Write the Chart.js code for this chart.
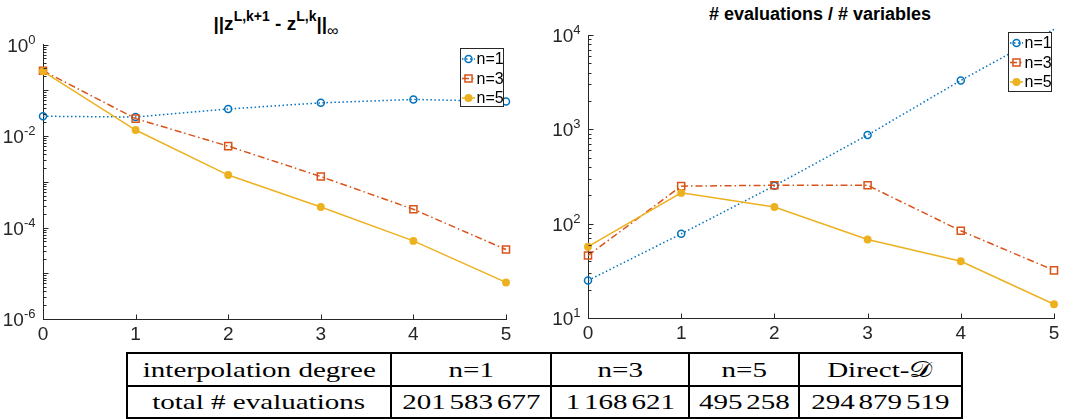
<!DOCTYPE html>
<html>
<head>
<meta charset="utf-8">
<script src="https://cdn.jsdelivr.net/npm/chart.js@4.4.1/dist/chart.umd.min.js"></script>
<style>
  body { margin: 0; background: #fff; width: 1082px; height: 419px; position: relative; overflow: hidden;
         font-family: 'Liberation Sans', Arial, sans-serif; }
  .panel { position: absolute; top: 0; height: 345px; }
  .title { position: absolute; font-weight: bold; color: #000; text-align: center; white-space: nowrap; }
  #title-left { left: 0; width: 552px; top: 14px; font-size: 19px; line-height: 19px; }
  #title-left sup { font-size: 14px; position: relative; top: -9px; vertical-align: baseline; }
  #title-left sub { font-size: 16px; font-weight: normal; position: relative; top: 6px; vertical-align: baseline; }
  #title-right { left: 620px; width: 400px; top: 5px; font-size: 18px; line-height: 18px; }
  #totals { position: absolute; left: 126px; top: 352px; width: 835px; table-layout: fixed;
            border-collapse: collapse; border: 2px solid #000;
            font-family: 'Liberation Serif', 'Times New Roman', serif; font-size: 22px; color: #000; }
  #totals td { border: 2px solid #000; padding: 0; text-align: center; vertical-align: middle; white-space: nowrap; }
  #totals td > span { display: inline-block; transform: scaleX(1.32); }
  #totals .grp + .grp { margin-left: 0.13em; }
</style>
</head>
<body>
<div class="title" id="title-left">||z<sup>L,k+1</sup> - z<sup>L,k</sup>||<sub>∞</sub></div>
<div class="title" id="title-right"># evaluations / # variables</div>

<div class="panel" style="left:0;width:540px"><canvas id="diff-chart" width="540" height="345"></canvas></div>
<div class="panel" style="left:545px;width:537px"><canvas id="eval-chart" width="537" height="345"></canvas></div>

<table id="totals">
  <colgroup><col style="width:264px"><col style="width:160px"><col style="width:138px"><col style="width:110px"><col style="width:163px"></colgroup>
  <tr style="height:33px" id="head-row"></tr>
  <tr style="height:32px" id="total-row"></tr>
</table>

<script>
// x = iteration index k
const iterations = [0, 1, 2, 3, 4, 5];
const seriesLabels = ['n=1', 'n=3', 'n=5'];

// ||z^{L,k+1} - z^{L,k}||_inf per degree
const diffN1 = [0.027, 0.026, 0.039, 0.053, 0.063, 0.057];
const diffN3 = [0.267, 0.024, 0.006, 0.0013, 0.00025, 0.000033];
const diffN5 = [0.26, 0.0135, 0.0014, 0.00028, 0.000051, 0.0000063];

// evaluations per variable
const evalN1 = [25, 78, 252, 870, 3300, 11500];
const evalN3 = [46, 250, 255, 255, 84, 32];
const evalN5 = [57, 212, 150, 68, 40, 14];

// decade exponents: labelled ones and full axis range
const diffLabelExps = [0, -2, -4, -6];
const diffRange = [-6, 0];
const evalLabelExps = [1, 2, 3, 4];
const evalRange = [1, 4];

// summary table (digit groups separated by a space)
const tableHeader = ['interpolation degree', 'n=1', 'n=3', 'n=5', 'Direct-𝒟'];
const tableTotals = ['total # evaluations', '201 583 677', '1 168 621', '495 258', '294 879 519'];

const FONT = "'Liberation Sans', Arial, sans-serif";
const AXIS_COLOR = '#262626';

const seriesStyles = [
    { color: '#0072BD', dash: [1.5, 2.5], point: 'circle', radius: 3.5, filled: false },
    { color: '#D95319', dash: [7, 3, 1.5, 3], point: 'rect', radius: 5, filled: false },
    { color: '#EDB120', dash: [], point: 'circle', radius: 3.2, filled: true }
];

function fillRow(id, cells) {
    const row = document.getElementById(id);
    cells.forEach(text => {
        const td = document.createElement('td');
        const span = document.createElement('span');
        if (/^[\d ]+$/.test(text)) {
            // numbers get a thin gap between digit groups
            text.split(' ').forEach(g => {
                const gs = document.createElement('span');
                gs.className = 'grp';
                gs.textContent = g;
                span.appendChild(gs);
            });
        } else {
            span.textContent = text;
        }
        td.appendChild(span);
        row.appendChild(td);
    });
}
fillRow('head-row', tableHeader);
fillRow('total-row', tableTotals);

function makeDatasets(seriesValues) {
    return seriesValues.map((values, i) => {
        const s = seriesStyles[i];
        return {
            label: seriesLabels[i],
            data: iterations.map((x, j) => ({ x: x, y: values[j] })),
            borderColor: s.color,
            borderWidth: 1.5,
            borderDash: s.dash,
            pointStyle: s.point,
            pointRadius: s.radius,
            pointHoverRadius: s.radius,
            pointBorderWidth: 1.5,
            pointBorderColor: s.color,
            pointBackgroundColor: s.filled ? s.color : 'rgba(255,255,255,0)',
            fill: false,
            tension: 0,
            clip: false,
            order: 3 - i
        };
    });
}

function drawMarker(ctx, ds, x, y) {
    ctx.save();
    ctx.setLineDash([]);
    ctx.lineWidth = ds.pointBorderWidth;
    ctx.strokeStyle = ds.pointBorderColor;
    ctx.fillStyle = ds.pointBackgroundColor;
    ctx.beginPath();
    if (ds.pointStyle === 'rect') {
        const h = ds.pointRadius * Math.SQRT1_2;
        ctx.rect(x - h, y - h, 2 * h, 2 * h);
    } else {
        ctx.arc(x, y, ds.pointRadius, 0, Math.PI * 2);
    }
    ctx.fill();
    ctx.stroke();
    ctx.restore();
}

// inward ticks, 10^n labels and a boxed legend
const matlabAxes = {
    id: 'matlabAxes',
    afterDraw(chart, args, opts) {
        const ctx = chart.ctx;
        const xs = chart.scales.x;
        const ys = chart.scales.y;
        const area = chart.chartArea;
        const ax = Math.round(area.left) + 0.5;
        const ay = Math.round(area.bottom) + 0.5;

        ctx.save();
        ctx.strokeStyle = AXIS_COLOR;
        ctx.lineWidth = 1;
        ctx.beginPath();
        iterations.forEach(v => {
            const px = Math.round(xs.getPixelForValue(v)) + 0.5;
            ctx.moveTo(px, ay);
            ctx.lineTo(px, ay - 5);
        });
        for (let e = opts.range[0]; e <= opts.range[1]; e++) {
            const py = Math.round(ys.getPixelForValue(Math.pow(10, e))) + 0.5;
            ctx.moveTo(ax, py);
            ctx.lineTo(ax + 5, py);
            if (e === opts.range[1]) break;
            for (let m = 2; m <= 9; m++) {
                const pm = Math.round(ys.getPixelForValue(m * Math.pow(10, e))) + 0.5;
                ctx.moveTo(ax, pm);
                ctx.lineTo(ax + 3, pm);
            }
        }
        ctx.stroke();

        ctx.fillStyle = AXIS_COLOR;
        ctx.textAlign = 'left';
        ctx.textBaseline = 'alphabetic';
        opts.labelExps.forEach(e => {
            const py = ys.getPixelForValue(Math.pow(10, e));
            const expText = String(e);
            ctx.font = '13px ' + FONT;
            const expW = ctx.measureText(expText).width;
            const expX = ax - 8 - expW;
            ctx.fillText(expText, expX, py - 1);
            ctx.font = '19px ' + FONT;
            const baseW = ctx.measureText('10').width;
            ctx.fillText('10', expX - baseW, py + 7);
        });

        // legend
        const b = opts.legendBox;
        ctx.fillStyle = '#fff';
        ctx.fillRect(b.x, b.y, b.w, b.h);
        ctx.strokeStyle = AXIS_COLOR;
        ctx.lineWidth = 1;
        ctx.strokeRect(b.x + 0.5, b.y + 0.5, b.w, b.h);
        const rowOffsets = [11, 30.5, 50];
        chart.data.datasets.forEach((ds, i) => {
            const ry = b.y + rowOffsets[i];
            ctx.save();
            ctx.strokeStyle = ds.borderColor;
            ctx.lineWidth = ds.borderWidth;
            ctx.setLineDash(ds.borderDash);
            ctx.beginPath();
            ctx.moveTo(b.x + 2, ry);
            ctx.lineTo(b.x + 15, ry);
            ctx.stroke();
            ctx.restore();
            drawMarker(ctx, ds, b.x + 8.5, ry);
            ctx.fillStyle = '#000';
            ctx.font = '16px ' + FONT;
            ctx.textBaseline = 'middle';
            ctx.fillText(ds.label, b.x + 16.5, ry + 1);
        });
        ctx.restore();
    }
};

function makeOptions(cfg) {
    return {
        responsive: false,
        animation: false,
        devicePixelRatio: 1,
        layout: { padding: cfg.padding },
        plugins: {
            legend: { display: false },
            title: { display: false },
            tooltip: { enabled: false },
            matlabAxes: { range: cfg.range, labelExps: cfg.labelExps, legendBox: cfg.legendBox }
        },
        scales: {
            x: {
                type: 'linear',
                min: 0,
                max: 5,
                ticks: { stepSize: 1, autoSkip: false, maxRotation: 0, padding: 4, color: AXIS_COLOR,
                         font: { family: FONT, size: 19 } },
                grid: { display: false, drawTicks: false },
                border: { display: true, color: AXIS_COLOR, width: 1 },
                afterFit: s => { s.height = cfg.xHeight; }
            },
            y: {
                type: 'logarithmic',
                min: Math.pow(10, cfg.range[0]),
                max: Math.pow(10, cfg.range[1]),
                ticks: { display: false },
                grid: { display: false, drawTicks: false },
                border: { display: true, color: AXIS_COLOR, width: 1 },
                afterFit: s => { s.width = cfg.yWidth; }
            }
        }
    };
}

document.addEventListener('DOMContentLoaded', () => {
    new Chart(document.getElementById('diff-chart').getContext('2d'), {
        type: 'line',
        data: { datasets: makeDatasets([diffN1, diffN3, diffN5]) },
        options: makeOptions({
            padding: { left: 0, top: 44.5, right: 34, bottom: 0 },
            xHeight: 26,
            yWidth: 43,
            range: diffRange,
            labelExps: diffLabelExps,
            legendBox: { x: 460, y: 48, w: 43, h: 58 }
        }),
        plugins: [matlabAxes]
    });

    new Chart(document.getElementById('eval-chart').getContext('2d'), {
        type: 'line',
        data: { datasets: makeDatasets([evalN1, evalN3, evalN5]) },
        options: makeOptions({
            padding: { left: 0, top: 35, right: 28, bottom: 0 },
            xHeight: 27,
            yWidth: 43,
            range: evalRange,
            labelExps: evalLabelExps,
            legendBox: { x: 463, y: 32, w: 43, h: 59 }
        }),
        plugins: [matlabAxes]
    });
});
</script>
</body>
</html>
